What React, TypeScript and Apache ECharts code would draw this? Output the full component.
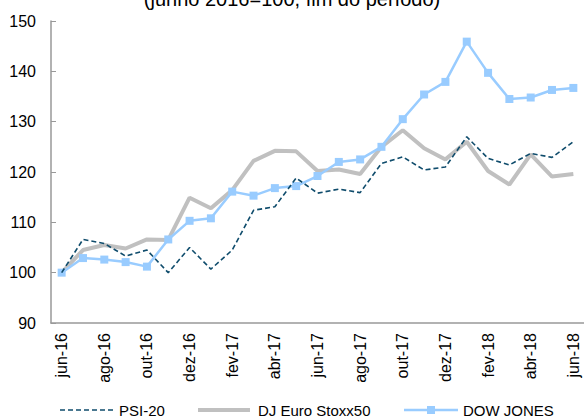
import React, { useEffect, useRef } from "react";
import * as echarts from "echarts";

const categories = [
  "jun-16", "jul-16", "ago-16", "set-16", "out-16", "nov-16", "dez-16",
  "jan-17", "fev-17", "mar-17", "abr-17", "mai-17", "jun-17", "jul-17",
  "ago-17", "set-17", "out-17", "nov-17", "dez-17", "jan-18", "fev-18",
  "mar-18", "abr-18", "mai-18", "jun-18",
];

const psi20 = [
  100, 106.6, 105.8, 103.3, 104.5, 100.0, 105.0, 100.7, 104.5, 112.4, 113.1,
  118.8, 115.8, 116.6, 115.9, 121.7, 123.0, 120.4, 121.0, 127.0, 122.7, 121.4,
  123.7, 122.9, 126.0,
];

const euroStoxx = [
  100, 104.5, 105.5, 104.8, 106.6, 106.5, 114.9, 112.8, 116.4, 122.2, 124.2,
  124.1, 120.2, 120.5, 119.6, 125.0, 128.3, 124.7, 122.5, 126.0, 120.2, 117.5,
  123.5, 119.1, 119.6,
];

const dowJones = [
  100, 102.9, 102.6, 102.1, 101.2, 106.6, 110.3, 110.8, 116.1, 115.3, 116.8,
  117.2, 119.2, 122.0, 122.5, 125.0, 130.5, 135.4, 137.9, 145.9, 139.7, 134.5,
  134.8, 136.3, 136.7,
];

const seriesNames = ["PSI-20", "DJ Euro Stoxx50", "DOW JONES"];
const titleText = "(junho 2016=100, fim do período)";

const FONT = "Liberation Sans, Arial, sans-serif";
const C_PSI = "#0f4c6c";
const C_DJ = "#c0c0c0";
const C_DOW = "#99ccff";

export default function App() {
  const ref = useRef<HTMLDivElement>(null);
  useEffect(() => {
    if (!ref.current) return;
    const chart = echarts.init(ref.current, undefined, { renderer: "svg" });
    const legendY = 410;
    const textStyle = { fontFamily: FONT, fontSize: 15, fill: "#000", textVerticalAlign: "middle" };
    chart.setOption({
      animation: false,
      backgroundColor: "#ffffff",
      title: {
        text: titleText,
        left: "center",
        top: -11,
        padding: 0,
        textStyle: { fontFamily: FONT, fontSize: 20, fontWeight: "normal", color: "#000" },
      },
      graphic: [
        { type: "line", shape: { x1: 60, y1: legendY, x2: 113, y2: legendY }, style: { stroke: C_PSI, lineWidth: 1.6, lineDash: [5, 3] } },
        { type: "text", x: 119, y: legendY, style: { text: seriesNames[0], ...textStyle } },
        { type: "line", shape: { x1: 198, y1: legendY, x2: 250, y2: legendY }, style: { stroke: C_DJ, lineWidth: 4 } },
        { type: "text", x: 258, y: legendY, style: { text: seriesNames[1], ...textStyle } },
        { type: "line", shape: { x1: 404, y1: legendY, x2: 458, y2: legendY }, style: { stroke: C_DOW, lineWidth: 2.5 } },
        { type: "rect", shape: { x: 427, y: legendY - 4, width: 8, height: 8 }, style: { fill: C_DOW } },
        { type: "text", x: 463, y: legendY, style: { text: seriesNames[2], ...textStyle } },
      ],
      grid: { left: 51, right: -2, top: 21, bottom: 94 },
      xAxis: {
        type: "category",
        data: categories,
        boundaryGap: true,
        axisLine: { lineStyle: { color: "#999999", width: 1.5 } },
        axisTick: { inside: true, length: 5, interval: 1, lineStyle: { color: "#999999" } },
        axisLabel: {
          interval: 1,
          rotate: 90,
          margin: 10,
          fontFamily: FONT,
          fontSize: 16,
          color: "#000",
        },
        splitLine: { show: false },
      },
      yAxis: {
        type: "value",
        min: 90,
        max: 150,
        interval: 10,
        axisLine: { show: true, lineStyle: { color: "#999999", width: 1.5 } },
        axisTick: { show: true, inside: true, length: 5, lineStyle: { color: "#999999" } },
        axisLabel: { margin: 15, fontFamily: FONT, fontSize: 16, color: "#000" },
        splitLine: { show: false },
      },
      series: [
        {
          name: seriesNames[0],
          type: "line",
          data: psi20,
          symbol: "none",
          z: 4,
          lineStyle: { color: C_PSI, width: 1.6, type: [5, 3] },
          itemStyle: { color: C_PSI },
        },
        {
          name: seriesNames[1],
          type: "line",
          data: euroStoxx,
          symbol: "none",
          z: 2,
          lineStyle: { color: C_DJ, width: 4 },
          itemStyle: { color: C_DJ },
        },
        {
          name: seriesNames[2],
          type: "line",
          data: dowJones,
          symbol: "rect",
          symbolSize: 8,
          z: 3,
          lineStyle: { color: C_DOW, width: 2.5 },
          itemStyle: { color: C_DOW },
        },
      ],
    });
    return () => chart.dispose();
  }, []);
  return (
    <div
      ref={ref}
      style={{ position: "fixed", left: 0, top: 0, width: 584, height: 417 }}
    />
  );
}
